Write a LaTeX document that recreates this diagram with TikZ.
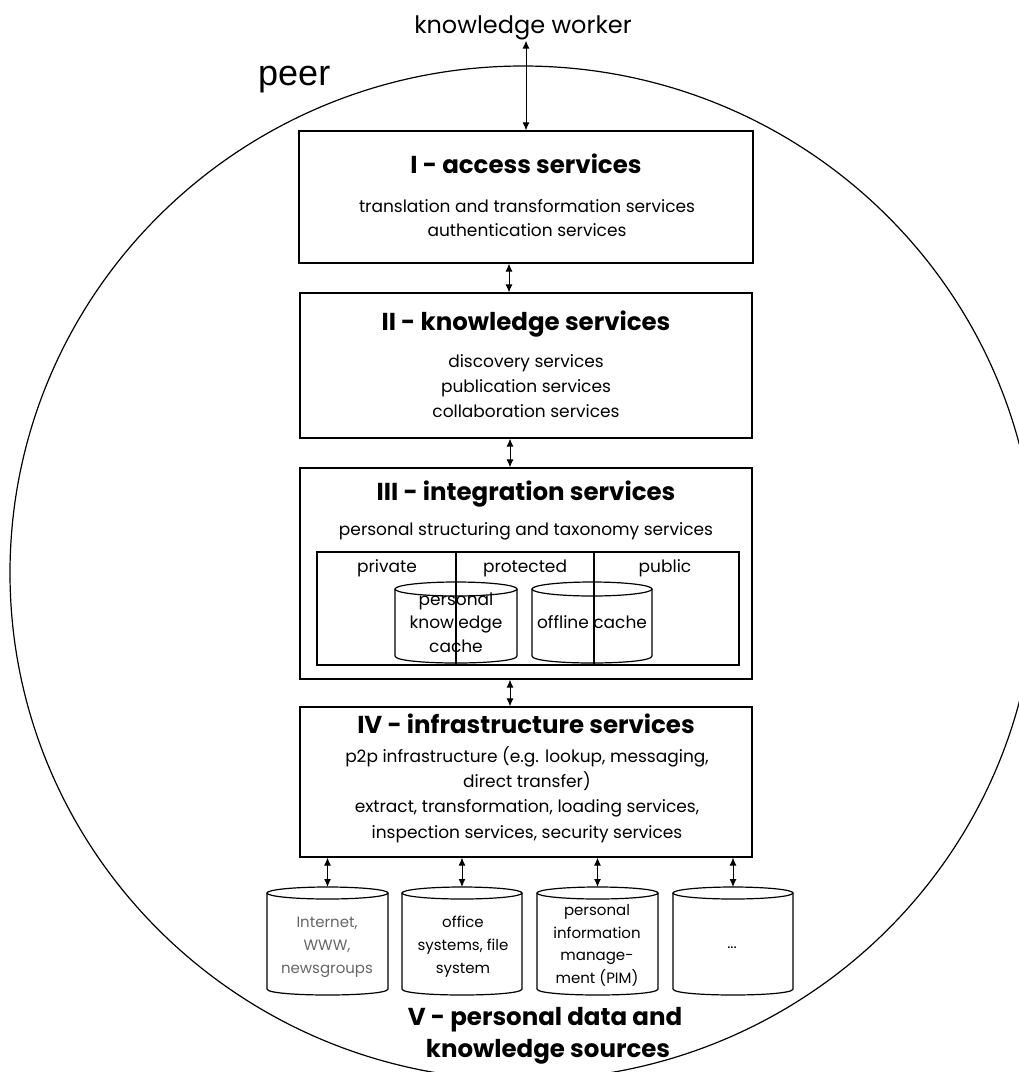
\documentclass[tikz,border=0pt]{standalone}
\usepackage{fontspec}
\setmainfont{Poppins}
\newfontfamily\peerfont{Liberation Sans}
\usetikzlibrary{arrows.meta}

% cylinder: name, centre x, top y, width, height, half height of the rim ellipse
\newcommand\drum[6]{%
  \coordinate (#1) at (#2,#3);
  \draw[drumline] (#2-#4/2,#3+#6) -- (#2-#4/2,#3+#5-#6)
    .. controls (#2-#4/2,#3+#5-#6+#6*4/3) and (#2+#4/2,#3+#5-#6+#6*4/3) .. (#2+#4/2,#3+#5-#6)
    -- (#2+#4/2,#3+#6);
  \draw[drumline] (#2,#3+#6) ellipse [x radius=#4/2*1pt, y radius=#6*1pt];
}

\begin{document}
\begin{tikzpicture}[x=1pt,y=-1pt,
  layerbox/.style={draw, line width=1.2pt, inner sep=0pt},
  drumline/.style={line width=1.2pt},
  dbl/.style={line width=1pt, {Latex[length=8pt,width=7pt]}-{Latex[length=8pt,width=7pt]}},
  ttl/.style={anchor=base, inner sep=0pt, font=\fontsize{24.5}{29}\bfseries},
  txt/.style={anchor=base, inner sep=0pt, font=\fontsize{17}{21}\selectfont},
  small/.style={anchor=base, inner sep=0pt, font=\fontsize{15}{19}\selectfont},
]
\path[use as bounding box] (0,0) rectangle (1019,1072);

% the peer boundary
\begin{scope}
  \clip (0,0) rectangle (1019,1072);
  \draw[line width=1.2pt] (523,573) ellipse [x radius=513pt, y radius=507pt];
\end{scope}

\node[anchor=base, inner sep=1pt, font=\fontsize{24}{28}\selectfont] (kw) at (523,33) {knowledge worker};
\node[anchor=base west, inner sep=0pt, font=\peerfont\fontsize{36}{40}\selectfont] (peer) at (258,85) {peer};

% I - access services
\node[layerbox, minimum width=454pt, minimum height=132pt] (acc) at (526,197) {};
\node[ttl] (accT) at (526,173) {I - access services};
\node[txt] (acc1) at (527,212) {translation and transformation services};
\node[txt] (acc2) at (527,236) {authentication services};

% II - knowledge services
\node[layerbox, minimum width=452pt, minimum height=145pt] (kno) at (526,365.5) {};
\node[ttl] (knoT) at (526,330) {II - knowledge services};
\node[txt] (kno1) at (526,367) {discovery services};
\node[txt] (kno2) at (526,392) {publication services};
\node[txt] (kno3) at (526,417) {collaboration services};

% III - integration services
\node[layerbox, minimum width=452pt, minimum height=211pt] (int) at (526,573.5) {};
\node[ttl] (intT) at (526,500) {III - integration services};
\node[txt] (int1) at (526,535) {personal structuring and taxonomy services};
\node[draw, line width=1.2pt, inner sep=0pt, minimum width=422pt, minimum height=113pt] (zones) at (528,608.5) {};
\node[txt] (zpriv) at (387,572) {private};
\node[txt] (zprot) at (525,572) {protected};
\node[txt] (zpub) at (665,572) {public};
\drum{pkc}{456}{582}{122}{81}{7}
\drum{olc}{592}{582}{120}{81}{7}
\draw[line width=1.2pt] (zones.north -| 456,0) -- (zones.south -| 456,0);
\draw[line width=1.2pt] (zones.north -| 594,0) -- (zones.south -| 594,0);
\node[txt] (pkc1) at (456,605) {personal};
\node[txt] (pkc2) at (456,628) {knowledge};
\node[txt] (pkc3) at (456,652) {cache};
\node[txt] (olc1) at (592,628) {offline cache};

% IV - infrastructure services
\node[layerbox, minimum width=452pt, minimum height=150pt] (ifs) at (526,782) {};
\node[ttl] (ifsT) at (526,733) {IV - infrastructure services};
\node[txt] (ifs1) at (527,762) {p2p infrastructure (e.g. lookup, messaging,};
\node[txt] (ifs2) at (527,787) {direct transfer)};
\node[txt] (ifs3) at (527,812) {extract, transformation, loading services,};
\node[txt] (ifs4) at (527,838) {inspection services, security services};

% V - personal data and knowledge sources
\drum{srcA}{327.5}{887}{121}{108}{6}
\drum{srcB}{462}{887}{120}{108}{6}
\drum{srcC}{597.5}{887}{121}{108}{6}
\drum{srcD}{733}{887}{120}{108}{6}
\node[small, text=black!60] (a1) at (327,927) {Internet,};
\node[small, text=black!60] (a2) at (327,950) {WWW,};
\node[small, text=black!60] (a3) at (327,973) {newsgroups};
\node[small] (b1) at (463,927) {office};
\node[small] (b2) at (463,950) {systems, file};
\node[small] (b3) at (463,973) {system};
\node[small] (c1) at (597,915) {personal};
\node[small] (c2) at (597,938) {information};
\node[small] (c3) at (597,960) {manage-};
\node[small] (c4) at (597,983) {ment (PIM)};
\node[small] (d1) at (732,948) {...};
\node[ttl] (srcT1) at (545,1025) {V - personal data and};
\node[ttl] (srcT2) at (548,1057) {knowledge sources};

% connectors
\draw[dbl] (kw.south -| acc.north) -- (acc.north);
\draw[dbl] ([xshift=-17pt]acc.south) -- ([xshift=-17pt]kno.north);
\draw[dbl] ([xshift=-16pt]kno.south) -- ([xshift=-16pt]int.north);
\draw[dbl] ([xshift=-16pt]int.south) -- ([xshift=-16pt]ifs.north);
\draw[dbl] (ifs.south -| srcA) -- (srcA);
\draw[dbl] (ifs.south -| srcB) -- (srcB);
\draw[dbl] (ifs.south -| srcC) -- (srcC);
\draw[dbl] (ifs.south -| srcD) -- (srcD);
\end{tikzpicture}
\end{document}
